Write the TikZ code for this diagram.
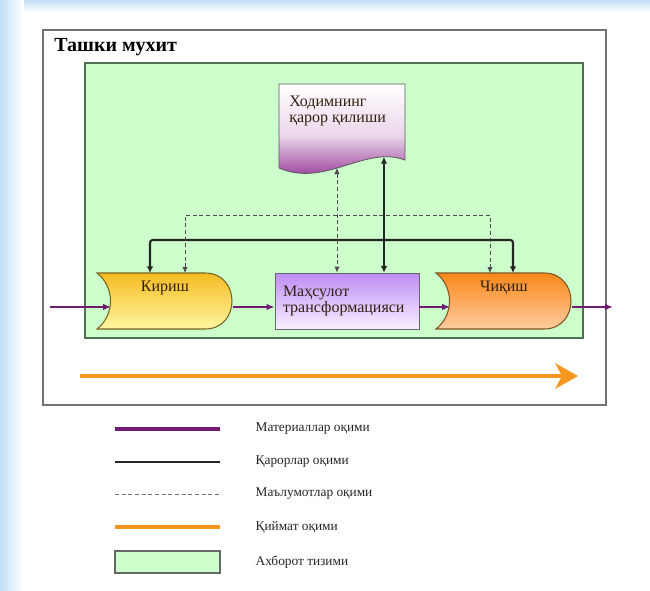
\documentclass[tikz,border=0pt]{standalone}
\usepackage{fontspec}
\setmainfont{Liberation Serif}
\usetikzlibrary{arrows.meta}

\definecolor{matpurple}{RGB}{112,28,112}
\definecolor{valorange}{RGB}{247,150,30}
\definecolor{sysgreen}{RGB}{204,255,204}
\definecolor{sysborder}{RGB}{80,110,80}
\definecolor{docpurple}{RGB}{135,25,135}
\definecolor{bgblue}{RGB}{195,222,246}
\definecolor{intop}{RGB}{245,188,35}
\definecolor{inbot}{RGB}{255,246,160}
\definecolor{inborder}{RGB}{120,100,30}
\definecolor{outtop}{RGB}{250,135,25}
\definecolor{outbot}{RGB}{255,205,160}
\definecolor{outborder}{RGB}{130,85,35}
\definecolor{prodtop}{RGB}{190,140,245}
\definecolor{prodbot}{RGB}{248,240,255}

\begin{document}
\begin{tikzpicture}[x=0.75pt, y=-0.75pt,
    material/.style={draw=matpurple, line width=2.2pt, -{Latex[length=6pt,width=5pt]}},
    decision/.style={draw=black!85, line width=1.6pt, rounded corners=2pt,
        {Latex[length=5pt,width=5pt]}-{Latex[length=5pt,width=5pt]}},
    info/.style={draw=black!70, densely dashed, line width=0.6pt,
        {Latex[length=4.5pt,width=4pt]}-{Latex[length=4.5pt,width=4pt]}},
    blocktext/.style={font=\fontsize{12}{12.5}\selectfont, text=black!75!brown},
    legtext/.style={anchor=west, font=\fontsize{10}{11}\selectfont, text=black!85}]

    % page and background
    \useasboundingbox (0,0) rectangle (650,590);
    \fill[white] (0,0) rectangle (650,590);
    \shade[top color=bgblue, bottom color=white] (0,0) rectangle (650,12);
    \shade[left color=bgblue, right color=white] (0,0) rectangle (24,590);

    % outer environment and information system
    \draw[black!55, line width=1.5pt] (43,30) rectangle (606,405);
    \node[anchor=west, inner sep=0, font=\bfseries\fontsize{15}{17}\selectfont] (env) at (54,47) {Ташки мухит};
    \draw[draw=sysborder, fill=sysgreen, line width=0.8pt] (85,63) rectangle (583,338);

    % document: employee decision
    \shade[top color=white, bottom color=docpurple, middle color=docpurple!18, draw=black!65, line width=0.6pt]
        (279,84) -- (405,84) -- (405,160) .. controls (365,145) and (325,188) .. (279,168) -- cycle;
    \node[blocktext, anchor=north west, align=left, inner sep=0, font=\fontsize{12}{11.5}\selectfont] (doc) at (289,96) {Ходимнинг\\қарор қилиши};
    \coordinate (docR) at (384,157);
    \coordinate (docL) at (337,168);

    % input and output shapes
    \shade[top color=intop, bottom color=inbot, draw=inborder, line width=0.8pt]
        (97,273) -- (205,273) .. controls (241,273) and (241,329) .. (205,329) -- (97,329) .. controls (115,315) and (115,287) .. (97,273) -- cycle;
    \shade[top color=outtop, bottom color=outbot, draw=outborder, line width=0.8pt]
        (436,273) -- (544,273) .. controls (580,273) and (580,329) .. (544,329) -- (436,329) .. controls (454,315) and (454,287) .. (436,273) -- cycle;
    \node[blocktext, anchor=north, minimum width=102pt, inner ysep=6pt] (kirish) at (165,273) {Кириш};
    \node[blocktext, anchor=north, minimum width=102pt, inner ysep=6pt] (chiqish) at (504,273) {Чиқиш};

    \node[blocktext, draw=black!60, line width=0.6pt, top color=prodtop, bottom color=prodbot,
        minimum width=108pt, minimum height=42pt, text width=96pt, inner xsep=6pt, align=left] (mahsulot) at (347,301) {Маҳсулот\\трансформацияси};

    % material flow
    \coordinate (src) at (50,307);
    \coordinate (snk) at (613,307);
    \coordinate (kin) at (111,307);
    \coordinate (cin) at (450,307);
    \draw[material] (src) -- (kin);
    \draw[material] (kirish.east |- src) -- (mahsulot.west |- src);
    \draw[material] (mahsulot.east |- src) -- (cin);
    \draw[material] (chiqish.east |- src) -- (snk);

    % decision flow
    \coordinate (busL) at (150,240);
    \coordinate (busR) at (513,240);
    \draw[decision] (kirish.north -| busL) -- (busL) -- (busR) -- (chiqish.north -| busR);
    \draw[decision] (docR) -- (mahsulot.north -| docR);

    % information flow
    \coordinate (infL) at (185,215);
    \coordinate (infR) at (490,215);
    \draw[info] (kirish.north -| infL) -- (infL) -- (infR) -- (chiqish.north -| infR);
    \draw[info] (docL) -- (mahsulot.north -| docL);

    % value flow
    \coordinate (valA) at (80,376);
    \coordinate (valB) at (578,376);
    \draw[valorange, line width=3.5pt, -{Stealth[length=17pt,width=19pt,inset=5pt]}] (valA) -- (valB);

    % legend
    \draw[matpurple, line width=2.5pt] (115,429) -- (220,429);
    \draw[black!85, line width=1.8pt] (115,462) -- (220,462);
    \draw[black!55, densely dashed, line width=0.6pt] (115,494) -- (220,494);
    \draw[valorange, line width=3.5pt] (115,527) -- (220,527);
    \draw[black!60, fill=sysgreen, line width=0.8pt] (115,551) rectangle (220,573);
    \node[legtext] (leg1) at (251,429) {Материаллар оқими};
    \node[legtext] (leg2) at (251,462) {Қарорлар оқими};
    \node[legtext] (leg3) at (251,494) {Маълумотлар оқими};
    \node[legtext] (leg4) at (251,527) {Қиймат оқими};
    \node[legtext] (leg5) at (251,562) {Ахборот тизими};
\end{tikzpicture}
\end{document}
